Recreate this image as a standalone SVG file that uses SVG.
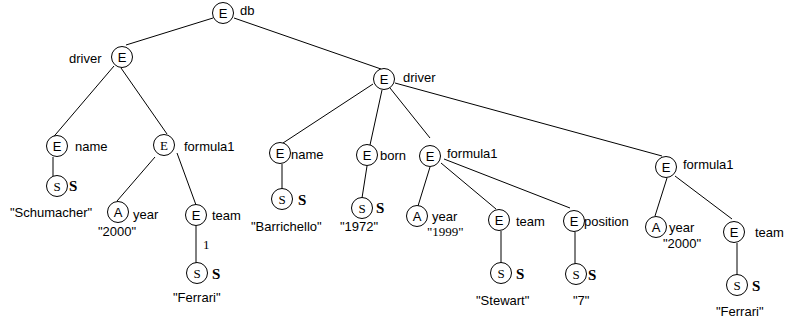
<svg xmlns="http://www.w3.org/2000/svg" width="793" height="323" viewBox="0 0 793 323">
<style>
.n circle{fill:#fff;stroke:#000;stroke-width:1}
.c{font-family:"Liberation Sans",Arial,sans-serif;font-size:13px;text-anchor:middle;fill:#000}
.cs{font-family:"Liberation Serif","Times New Roman",serif;font-size:13px;text-anchor:middle;fill:#000}
.l{font-family:"Liberation Sans",Arial,sans-serif;font-size:13px;fill:#000}
.ls{font-family:"Liberation Serif","Times New Roman",serif;font-size:13px;fill:#000}
.b{font-family:"Liberation Serif","Times New Roman",serif;font-size:15px;font-weight:bold;fill:#000}
#edges line{stroke:#000;stroke-width:1}
</style>
<rect width="793" height="323" fill="#fff"/>
<g id="edges">
<line x1="213" y1="18" x2="126" y2="45"/>
<line x1="234" y1="18" x2="381" y2="69"/>
<line x1="114" y1="66" x2="50" y2="141"/>
<line x1="121" y1="68" x2="167" y2="134"/>
<line x1="53" y1="157" x2="53" y2="176"/>
<line x1="155" y1="157" x2="117" y2="201"/>
<line x1="177" y1="153" x2="196" y2="205"/>
<line x1="196" y1="226" x2="196" y2="263"/>
<line x1="373" y1="84" x2="283" y2="143"/>
<line x1="382" y1="90" x2="370" y2="145"/>
<line x1="390" y1="88" x2="430" y2="138"/>
<line x1="395" y1="83" x2="662" y2="156"/>
<line x1="282" y1="164" x2="282" y2="189"/>
<line x1="367" y1="166" x2="362" y2="198"/>
<line x1="430" y1="167" x2="418" y2="206"/>
<line x1="441" y1="163" x2="496" y2="209"/>
<line x1="444" y1="159" x2="570" y2="208"/>
<line x1="501" y1="231" x2="501" y2="263"/>
<line x1="575" y1="232" x2="575" y2="264"/>
<line x1="667" y1="178" x2="655" y2="216"/>
<line x1="675" y1="176" x2="732" y2="219"/>
<line x1="737" y1="243" x2="737" y2="275"/>
</g>
<g id="db" class="n"><circle cx="223" cy="13" r="10.5"/><text class="c" x="223" y="18">E</text><text class="l" x="240" y="15">db</text></g>
<g id="driver1" class="n"><circle cx="122" cy="57" r="10.5"/><text class="c" x="122" y="62">E</text><text class="l" x="69" y="63">driver</text></g>
<g id="name1" class="n"><circle cx="57" cy="146" r="10.5"/><text class="c" x="57" y="151">E</text><text class="l" x="75" y="151">name</text></g>
<g id="formula1a" class="n"><circle cx="164" cy="145" r="10.5"/><text class="cs" x="164" y="150">E</text><text class="l" x="184" y="151">formula1</text></g>
<g id="str1" class="n"><circle cx="57" cy="186" r="10.5"/><text class="cs" x="57" y="191">S</text><text class="b" x="69" y="191">S</text><text class="l" x="10" y="217">"Schumacher"</text></g>
<g id="year1" class="n"><circle cx="118" cy="212" r="10.5"/><text class="c" x="118" y="217">A</text><text class="l" x="133" y="219">year</text><text class="l" x="98" y="236">"2000"</text></g>
<g id="team1" class="n"><circle cx="196" cy="215" r="10.5"/><text class="c" x="196" y="220">E</text><text class="l" x="212" y="220">team</text><text class="ls" x="203" y="249">1</text></g>
<g id="str2" class="n"><circle cx="197" cy="273" r="10.5"/><text class="cs" x="197" y="278">S</text><text class="b" x="212" y="279">S</text><text class="l" x="173" y="302">"Ferrari"</text></g>
<g id="driver2" class="n"><circle cx="384" cy="79" r="10.5"/><text class="c" x="384" y="84">E</text><text class="l" x="403" y="82">driver</text></g>
<g id="name2" class="n"><circle cx="280" cy="153" r="10.5"/><text class="c" x="280" y="158">E</text><text class="l" x="291" y="159">name</text></g>
<g id="str3" class="n"><circle cx="282" cy="199" r="10.5"/><text class="cs" x="282" y="204">S</text><text class="b" x="298" y="205">S</text><text class="l" x="251" y="231">"Barrichello"</text></g>
<g id="born" class="n"><circle cx="367" cy="155" r="10.5"/><text class="c" x="367" y="160">E</text><text class="l" x="380" y="160">born</text></g>
<g id="str4" class="n"><circle cx="362" cy="208" r="10.5"/><text class="cs" x="362" y="213">S</text><text class="b" x="376" y="213">S</text><text class="l" x="340" y="231">"1972"</text></g>
<g id="formula1b" class="n"><circle cx="430" cy="156" r="10.5"/><text class="c" x="430" y="161">E</text><text class="l" x="447" y="158">formula1</text></g>
<g id="year2" class="n"><circle cx="417" cy="216" r="10.5"/><text class="c" x="417" y="221">A</text><text class="l" x="432" y="221">year</text><text class="ls" x="427" y="236">"1999"</text></g>
<g id="team2" class="n"><circle cx="499" cy="220" r="10.5"/><text class="c" x="499" y="225">E</text><text class="l" x="516" y="226">team</text></g>
<g id="str5" class="n"><circle cx="501" cy="273" r="10.5"/><text class="cs" x="501" y="278">S</text><text class="b" x="516" y="279">S</text><text class="l" x="476" y="305">"Stewart"</text></g>
<g id="position" class="n"><circle cx="574" cy="221" r="10.5"/><text class="c" x="574" y="226">E</text><text class="l" x="584" y="226">position</text></g>
<g id="str6" class="n"><circle cx="576" cy="274" r="10.5"/><text class="cs" x="576" y="279">S</text><text class="b" x="588" y="280">S</text><text class="l" x="573" y="305">"7"</text></g>
<g id="formula1c" class="n"><circle cx="666" cy="167" r="10.5"/><text class="c" x="666" y="172">E</text><text class="l" x="683" y="169">formula1</text></g>
<g id="year3" class="n"><circle cx="656" cy="227" r="10.5"/><text class="c" x="656" y="232">A</text><text class="l" x="669" y="232">year</text><text class="l" x="663" y="248">"2000"</text></g>
<g id="team3" class="n"><circle cx="734" cy="232" r="10.5"/><text class="c" x="734" y="237">E</text><text class="l" x="755" y="237">team</text></g>
<g id="str7" class="n"><circle cx="737" cy="285" r="10.5"/><text class="cs" x="737" y="290">S</text><text class="b" x="752" y="291">S</text><text class="l" x="716" y="316">"Ferrari"</text></g>
</svg>
